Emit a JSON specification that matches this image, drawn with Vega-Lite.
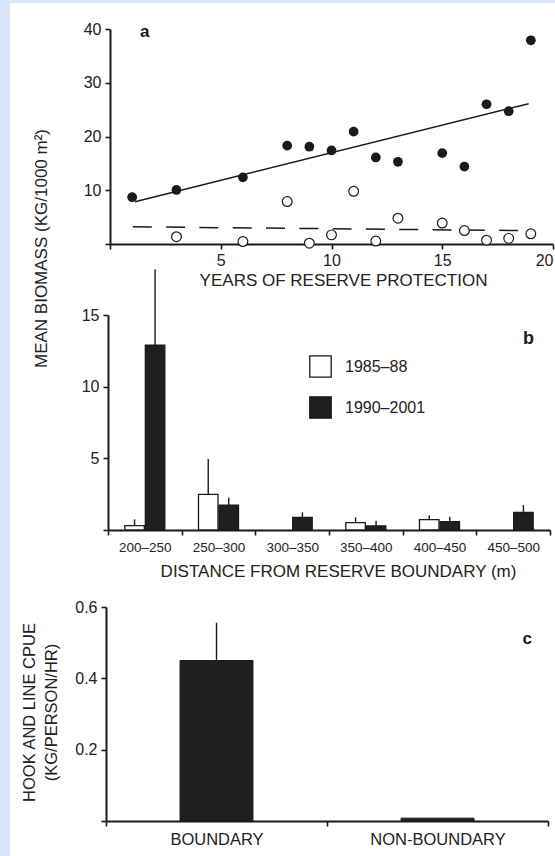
{
  "$schema": "https://vega.github.io/schema/vega-lite/v6.json",
  "background": "#d7e8fb",
  "padding": {"left": 10, "top": 3, "right": 0, "bottom": 0},
  "bounds": "flush",
  "spacing": 0,
  "config": {
    "view": {"fill": "#ffffff", "stroke": null},
    "font": "Liberation Sans",
    "title": {"font": "Liberation Sans", "fontWeight": "bold", "color": "#1a1a1a", "frame": "group", "orient": "top", "offset": 0, "baseline": "middle", "align": "center"},
    "axis": {
      "grid": false,
      "domainColor": "#1a1a1a",
      "domainWidth": 2,
      "tickColor": "#1a1a1a",
      "tickWidth": 1.6,
      "tickSize": 5,
      "labelColor": "#222222",
      "titleColor": "#222222",
      "labelFont": "Liberation Sans",
      "titleFont": "Liberation Sans",
      "labelFontSize": 16,
      "titleFontSize": 17,
      "titleFontWeight": "normal",
      "labelPadding": 4
    }
  },
  "datasets": {
    "trend": [
      {"year": 1, "biomass": 8.7, "series": "reserve"},
      {"year": 3, "biomass": 10.05, "series": "reserve"},
      {"year": 6, "biomass": 12.4, "series": "reserve"},
      {"year": 8, "biomass": 18.3, "series": "reserve"},
      {"year": 9, "biomass": 18.1, "series": "reserve"},
      {"year": 10, "biomass": 17.4, "series": "reserve"},
      {"year": 11, "biomass": 20.9, "series": "reserve"},
      {"year": 12, "biomass": 16.1, "series": "reserve"},
      {"year": 13, "biomass": 15.3, "series": "reserve"},
      {"year": 15, "biomass": 16.9, "series": "reserve"},
      {"year": 16, "biomass": 14.4, "series": "reserve"},
      {"year": 17, "biomass": 26.0, "series": "reserve"},
      {"year": 18, "biomass": 24.7, "series": "reserve"},
      {"year": 19, "biomass": 37.9, "series": "reserve"},
      {"year": 3, "biomass": 1.35, "series": "outside"},
      {"year": 6, "biomass": 0.45, "series": "outside"},
      {"year": 8, "biomass": 7.9, "series": "outside"},
      {"year": 9, "biomass": 0.15, "series": "outside"},
      {"year": 10, "biomass": 1.7, "series": "outside"},
      {"year": 11, "biomass": 9.8, "series": "outside"},
      {"year": 12, "biomass": 0.55, "series": "outside"},
      {"year": 13, "biomass": 4.8, "series": "outside"},
      {"year": 15, "biomass": 3.9, "series": "outside"},
      {"year": 16, "biomass": 2.5, "series": "outside"},
      {"year": 17, "biomass": 0.7, "series": "outside"},
      {"year": 18, "biomass": 1.05, "series": "outside"},
      {"year": 19, "biomass": 1.9, "series": "outside"}
    ],
    "fits": [
      {"year": 1.13, "biomass": 7.87, "series": "reserve"},
      {"year": 18.9, "biomass": 26.1, "series": "reserve"},
      {"year": 1.03, "biomass": 3.2, "series": "outside"},
      {"year": 18.5, "biomass": 2.5, "series": "outside"}
    ],
    "distance": [
      {"bin": "200–250", "period": "1985–88", "value": 0.3, "upper": 0.74},
      {"bin": "200–250", "period": "1990–2001", "value": 12.9, "upper": 18.2},
      {"bin": "250–300", "period": "1985–88", "value": 2.49, "upper": 4.95},
      {"bin": "250–300", "period": "1990–2001", "value": 1.74, "upper": 2.26},
      {"bin": "300–350", "period": "1990–2001", "value": 0.88, "upper": 1.23},
      {"bin": "350–400", "period": "1985–88", "value": 0.51, "upper": 0.88},
      {"bin": "350–400", "period": "1990–2001", "value": 0.28, "upper": 0.65},
      {"bin": "400–450", "period": "1985–88", "value": 0.72, "upper": 1.02},
      {"bin": "400–450", "period": "1990–2001", "value": 0.58, "upper": 0.93},
      {"bin": "450–500", "period": "1990–2001", "value": 1.23, "upper": 1.74}
    ],
    "cpue": [
      {"site": "BOUNDARY", "cpue": 0.45, "upper": 0.556},
      {"site": "NON-BOUNDARY", "cpue": 0.008, "upper": null}
    ]
  },
  "vconcat": [
    {
      "width": 545,
      "height": 289,
      "title": {"text": "a", "anchor": "start", "fontSize": 17, "dx": 130, "dy": 42},
      "encoding": {
        "x": {
          "field": "year",
          "type": "quantitative",
          "scale": {"domain": [0, 20], "range": [100, 543], "nice": false, "zero": false},
          "axis": {
            "orient": "bottom",
            "offset": -48,
            "values": [0, 5, 10, 15, 20],
            "labelExpr": "datum.value === 0 ? '' : datum.label",
            "labelPadding": 3,
            "title": "YEARS OF RESERVE PROTECTION",
            "titleX": 333,
            "titleY": 41,
            "titleAlign": "center",
            "titleBaseline": "alphabetic"
          }
        },
        "y": {
          "field": "biomass",
          "type": "quantitative",
          "scale": {"domain": [0, 40], "range": [241, 26], "nice": false},
          "axis": {
            "orient": "left",
            "offset": -100,
            "values": [0, 10, 20, 30, 40],
            "labelExpr": "datum.value === 0 ? '' : datum.label",
            "title": null
          }
        }
      },
      "layer": [
        {
          "data": {"name": "fits"},
          "transform": [{"filter": "datum.series === 'reserve'"}],
          "mark": {"type": "line", "color": "#1a1a1a", "strokeWidth": 1.5}
        },
        {
          "data": {"name": "fits"},
          "transform": [{"filter": "datum.series === 'outside'"}],
          "mark": {"type": "line", "color": "#1a1a1a", "strokeWidth": 1.5, "strokeDash": [19, 14.3]}
        },
        {
          "data": {"name": "trend"},
          "transform": [{"filter": "datum.series === 'outside'"}],
          "mark": {"type": "circle", "size": 95, "fill": "#ffffff", "stroke": "#1a1a1a", "strokeWidth": 1.2, "opacity": 1}
        },
        {
          "data": {"name": "trend"},
          "transform": [{"filter": "datum.series === 'reserve'"}],
          "mark": {"type": "circle", "size": 95, "fill": "#1a1a1a", "opacity": 1}
        }
      ]
    },
    {
      "width": 545,
      "height": 296,
      "title": {"text": "b", "anchor": "end", "fontSize": 18, "dx": -21, "dy": 223},
      "data": {"name": "distance"},
      "encoding": {
        "x": {
          "field": "bin",
          "type": "nominal",
          "sort": null,
          "scale": {
            "domain": ["200–250", "250–300", "300–350", "350–400", "400–450", "450–500"],
            "range": [98, 540],
            "paddingInner": 0,
            "paddingOuter": 0
          },
          "axis": {
            "orient": "bottom",
            "offset": -58,
            "tickBand": "extent",
            "labelAngle": 0,
            "labelFontSize": 13.5,
            "labelPadding": 5,
            "title": "DISTANCE FROM RESERVE BOUNDARY (m)",
            "titleX": 328,
            "titleY": 46,
            "titleAlign": "center",
            "titleBaseline": "alphabetic"
          }
        },
        "y": {
          "field": "value",
          "type": "quantitative",
          "scale": {"domain": [0, 15], "range": [238, 23], "nice": false},
          "axis": {
            "orient": "left",
            "offset": -98,
            "values": [0, 5, 10, 15],
            "labelExpr": "datum.value === 0 ? '' : datum.label",
            "title": "MEAN BIOMASS (KG/1000 m²)",
            "titleX": -67,
            "titleY": -44,
            "titleAngle": -90,
            "titleAlign": "center",
            "titleBaseline": "middle"
          }
        }
      },
      "layer": [
        {
          "mark": {"type": "bar", "stroke": "#1a1a1a", "strokeWidth": 1.3},
          "encoding": {
            "xOffset": {
              "field": "period",
              "type": "nominal",
              "scale": {"domain": ["1985–88", "1990–2001"], "paddingInner": 0.05, "paddingOuter": 0.82}
            },
            "color": {
              "field": "period",
              "type": "nominal",
              "scale": {"domain": ["1985–88", "1990–2001"], "range": ["#ffffff", "#1f1f22"]},
              "legend": {
                "orient": "none",
                "legendX": 299,
                "legendY": 352,
                "title": null,
                "padding": 0,
                "symbolType": "square",
                "symbolSize": 460,
                "symbolStrokeColor": "#1a1a1a",
                "symbolStrokeWidth": 1.3,
                "symbolOpacity": 1,
                "labelFont": "Liberation Sans",
                "labelFontSize": 16,
                "labelColor": "#222222",
                "labelOffset": 13,
                "rowPadding": 14
              }
            }
          }
        },
        {
          "mark": {"type": "rule", "color": "#1a1a1a", "strokeWidth": 1.4},
          "encoding": {
            "xOffset": {"field": "period", "type": "nominal"},
            "y2": {"field": "upper"}
          }
        }
      ]
    },
    {
      "width": 545,
      "height": 268,
      "title": {"text": "c", "anchor": "end", "fontSize": 17, "dx": -23, "dy": 64},
      "data": {"name": "cpue"},
      "encoding": {
        "x": {
          "field": "site",
          "type": "nominal",
          "sort": null,
          "scale": {"domain": ["BOUNDARY", "NON-BOUNDARY"], "range": [96, 538], "paddingInner": 0, "paddingOuter": 0},
          "axis": {
            "orient": "bottom",
            "offset": -35,
            "tickBand": "extent",
            "labelAngle": 0,
            "labelFontSize": 16.5,
            "labelPadding": 5,
            "title": null
          }
        },
        "y": {
          "field": "cpue",
          "type": "quantitative",
          "scale": {"domain": [0, 0.6], "range": [233, 19], "nice": false},
          "axis": {
            "orient": "left",
            "offset": -96,
            "values": [0, 0.2, 0.4, 0.6],
            "format": ".1f",
            "labelExpr": "datum.value === 0 ? '' : datum.label",
            "title": ["HOOK AND LINE CPUE", "(KG/PERSON/HR)"],
            "titleFontSize": 16.5,
            "titleLineHeight": 22,
            "titleX": -77,
            "titleY": 124,
            "titleAngle": -90,
            "titleAlign": "center",
            "titleBaseline": "middle"
          }
        }
      },
      "layer": [
        {
          "mark": {"type": "bar", "width": {"band": 0.33}, "fill": "#1f1f22", "stroke": "#1a1a1a", "strokeWidth": 1}
        },
        {
          "transform": [{"filter": "datum.upper != null"}],
          "mark": {"type": "rule", "color": "#1a1a1a", "strokeWidth": 1.4},
          "encoding": {"y2": {"field": "upper"}}
        }
      ]
    }
  ]
}
